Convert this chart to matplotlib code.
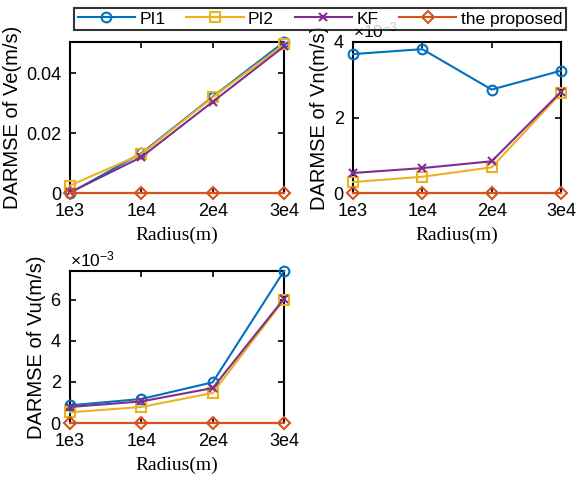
import matplotlib
matplotlib.use('Agg')
import matplotlib.pyplot as plt
from matplotlib.ticker import ScalarFormatter

radius = ['1e3', '1e4', '2e4', '3e4']
labels = ['PI1', 'PI2', 'KF', 'the proposed']

ve_pi1 = [0.0000, 0.0133, 0.0322, 0.0505]
ve_pi2 = [0.0025, 0.0130, 0.0320, 0.0497]
ve_kf = [0.0002, 0.0120, 0.0305, 0.0490]
ve_prop = [0.0, 0.0, 0.0, 0.0]
ve_ticklabels = ['0', '0.02', '0.04']

vn_pi1 = [3.68e-3, 3.81e-3, 2.74e-3, 3.24e-3]
vn_pi2 = [0.29e-3, 0.43e-3, 0.68e-3, 2.65e-3]
vn_kf = [0.53e-3, 0.66e-3, 0.84e-3, 2.68e-3]
vn_prop = [0.0, 0.0, 0.0, 0.0]

vu_pi1 = [0.86e-3, 1.17e-3, 1.98e-3, 7.4e-3]
vu_pi2 = [0.52e-3, 0.78e-3, 1.46e-3, 6.0e-3]
vu_kf = [0.78e-3, 1.05e-3, 1.70e-3, 6.05e-3]
vu_prop = [0.0, 0.0, 0.0, 0.0]

colors = ['#0072BD', '#EDB120', '#7E2F8E', '#D95319']
markers = ['o', 's', 'x', 'D']
msizes = [7, 6.5, 6, 6]

plt.rcParams['font.family'] = ['Liberation Sans', 'DejaVu Sans']
plt.rcParams['mathtext.fontset'] = 'custom'
plt.rcParams['mathtext.rm'] = 'Liberation Sans'
plt.rcParams['mathtext.it'] = 'Liberation Sans'

fig = plt.figure(figsize=(5.8, 4.78), dpi=100)
W, H = 580, 478
boxes = [(70, 42, 284, 193), (353, 42, 561, 193), (70, 271, 284, 423)]
series = [
    (ve_pi1, ve_pi2, ve_kf, ve_prop, 'DARMSE of Ve(m/s)', (0, 0.0505), [0, 0.02, 0.04]),
    (vn_pi1, vn_pi2, vn_kf, vn_prop, 'DARMSE of Vn(m/s)', (0, 4e-3), [0, 2e-3, 4e-3]),
    (vu_pi1, vu_pi2, vu_kf, vu_prop, 'DARMSE of Vu(m/s)', (0, 7.4e-3), [0, 2e-3, 4e-3, 6e-3]),
]

x = list(range(len(radius)))
handles = []
for i, ((l, t, r, b), s) in enumerate(zip(boxes, series)):
    ax = fig.add_axes([l / W, 1 - b / H, (r - l) / W, (b - t) / H])
    for j in range(4):
        h, = ax.plot(x, s[j], color=colors[j], marker=markers[j], markersize=msizes[j],
                     markerfacecolor='none', markeredgewidth=1.5, linewidth=1.5,
                     clip_on=False, zorder=3 + (j == 3))
        if i == 0:
            handles.append(h)
    ax.set_xlim(0, 3)
    ax.set_ylim(*s[5])
    ax.set_xticks(x)
    ax.set_xticklabels(radius)
    ax.set_yticks(s[6])
    if i == 0:
        ax.set_yticklabels(ve_ticklabels)
    else:
        fmt = ScalarFormatter(useMathText=True)
        fmt.set_powerlimits((-2, 2))
        ax.yaxis.set_major_formatter(fmt)
        ax.yaxis.get_offset_text().set_fontsize(12.5)
    ax.set_ylabel(s[4], fontsize=14.5, labelpad=3)
    ax.set_xlabel('Radius(m)', fontsize=14, family='Liberation Serif', labelpad=5)
    ax.tick_params(direction='in', top=True, right=True, labelsize=13, length=4, width=1.2)
    ax.tick_params(axis='x', pad=7)
    ax.tick_params(axis='y', pad=6)
    for sp in ax.spines.values():
        sp.set_linewidth(1.5)

fig.legend(handles, labels, loc='center', ncol=4, bbox_to_anchor=(320 / W, 1 - 19 / H),
           frameon=True, fancybox=False, edgecolor='black', fontsize=12.5,
           handlelength=3.3, columnspacing=1.2, handletextpad=0.25, borderpad=0.2)
leg = fig.legends[0]
leg.get_frame().set_linewidth(1.5)

fig.savefig('out.png', dpi=100)
